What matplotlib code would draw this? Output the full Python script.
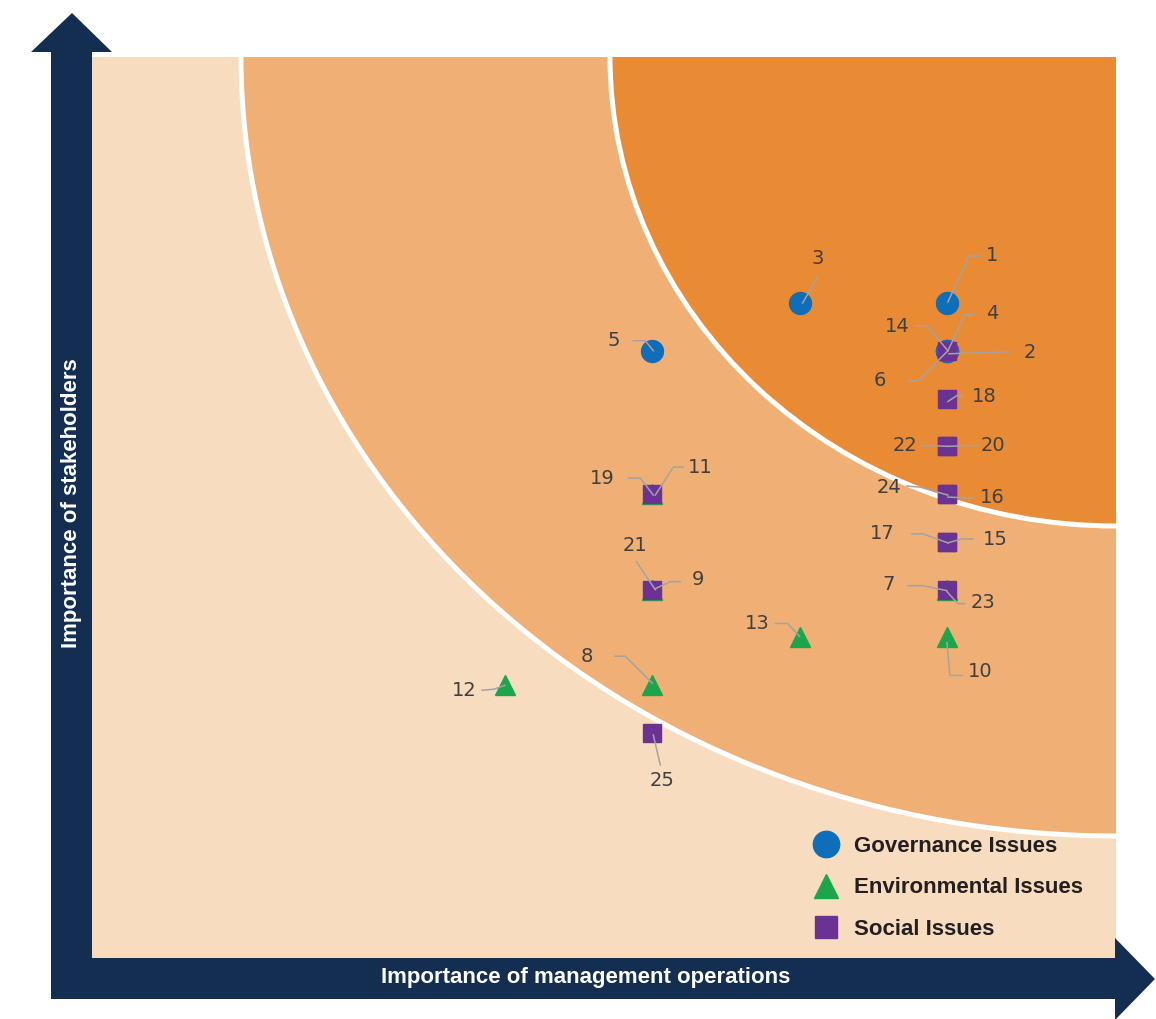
import matplotlib
matplotlib.use('Agg')
import matplotlib.pyplot as plt
from matplotlib.patches import Rectangle, Ellipse, Polygon
from matplotlib.lines import Line2D
from matplotlib.transforms import IdentityTransform

# ---------------- data ----------------
issue_ids = list(range(1, 26))
issue_category = (['Governance'] * 6 + ['Environmental'] * 7 + ['Social'] * 12)
management_importance = [6, 6, 5, 6, 4, 6,
                         6, 4, 4, 6, 4, 3, 5,
                         6, 6, 6, 6, 6, 4, 6, 4, 6, 6, 6, 4]
stakeholder_importance = [10, 9, 10, 9, 9, 9,
                          4, 2, 4, 3, 6, 2, 3,
                          9, 5, 6, 5, 8, 6, 7, 4, 7, 4, 6, 1]
legend_labels = {'Governance': 'Governance Issues',
                 'Environmental': 'Environmental Issues',
                 'Social': 'Social Issues'}
x_axis_title = 'Importance of management operations'
y_axis_title = 'Importance of stakeholders'

# ---------------- styles / layout ----------------
W, H, DPI = 1156, 1019, 100
NAVY = '#142E52'
C_OUT, C_MID, C_IN = '#F8DCBF', '#F0B075', '#E98A35'
styles = {'Governance': dict(marker='o', color='#0E6EB9', ms=15.8, z=3),
          'Environmental': dict(marker='^', color='#1BA64B', ms=14.0, z=4),
          'Social': dict(marker='s', color='#6A3393', ms=13.6, z=5)}

# label placement: (label dx, dy) and leader vertices, pixel offsets (y downward)
label_layout = {
    1: ((45, -47), [(32, -47), (22, -47), (1, -1)]),
    2: ((83, 2), [(63, 1), (2, 3)]),
    3: ((18, -44), [(18, -26), (3, 0)]),
    4: ((45, -37), [(26, -36), (18, -36), (1, 0)]),
    5: ((-39, -10), [(-19, -10), (-7, -10), (1, 0)]),
    6: ((-67, 30), [(-38, 30), (-29, 30), (1, 0)]),
    7: ((-58, -5), [(-39, -4), (-24, -4), (0, 1)]),
    8: ((-65, -29), [(-37, -29), (-27, -29), (0, -2)]),
    9: ((46, -10), [(28, -8), (18, -8), (3, -1)]),
    10: ((33, 34), [(15, 38), (3, 38), (0, 5)]),
    11: ((48, -27), [(31, -27), (21, -27), (3, 1)]),
    12: ((-41, 5), [(-23, 5), (-11, 4), (0, 0)]),
    13: ((-42, -14), [(-24, -14), (-12, -14), (0, -1)]),
    14: ((-50, -24), [(-32, -25), (-20, -25), (1, 0)]),
    15: ((48, -2), [(26, -3), (15, -3), (1, 1)]),
    16: ((45, 3), [(26, 4), (1, 3)]),
    17: ((-65, -8), [(-35, -8), (-24, -8), (1, 1)]),
    18: ((37, -2), [(16, -3), (10, -3), (1, 3)]),
    19: ((-50, -16), [(-24, -16), (-12, -16), (1, 1)]),
    20: ((46, -1), [(31, -1), (1, 0)]),
    21: ((-17, -44), [(-16, -28), (3, 0)]),
    22: ((-42, -1), [(-25, -1), (1, 0)]),
    23: ((36, 13), [(18, 14), (11, 14), (0, 2)]),
    24: ((-58, -7), [(-40, -8), (-27, -7), (1, 1)]),
    25: ((10, 47), [(8, 32), (1, 2)]),
}

fig = plt.figure(figsize=(W / DPI, H / DPI), dpi=DPI)
fig.patch.set_facecolor('white')

# background (pixel coordinates, y down)
bg = fig.add_axes([0, 0, 1, 1])
bg.set_xlim(0, W)
bg.set_ylim(H, 0)
bg.axis('off')

PL, PR, PT, PB = 92, 1116, 57, 958
panel = Rectangle((PL, PT), PR - PL, PB - PT, facecolor=C_OUT, edgecolor='none', zorder=1)
bg.add_patch(panel)
mid = Ellipse((PR, PT), 2 * 875, 2 * 779, facecolor=C_MID, edgecolor='white', lw=3.6, zorder=2)
bg.add_patch(mid)
mid.set_clip_path(panel)
inner = Ellipse((PR, PT), 2 * 506, 2 * 469, facecolor=C_IN, edgecolor='white', lw=3.6, zorder=3)
bg.add_patch(inner)
inner.set_clip_path(panel)

# arrows
bg.add_patch(Polygon([(51, 999), (51, 52), (31, 52), (72, 13), (112, 52), (92, 52), (92, 999)],
                     closed=True, facecolor=NAVY, edgecolor='none', zorder=4))
bg.add_patch(Polygon([(51, 958), (1115, 958), (1115, 938), (1155, 979), (1115, 1020), (1115, 999), (51, 999)],
                     closed=True, facecolor=NAVY, edgecolor='none', zorder=4))
bg.text(586, 978, x_axis_title, color='white', fontsize=16, fontweight='bold',
        family='Liberation Sans', ha='center', va='center', zorder=5)
bg.text(72, 503, y_axis_title, color='white', fontsize=16, fontweight='bold',
        family='Liberation Sans', ha='center', va='center', rotation=90, zorder=5)

# data axes over the panel
ax = fig.add_axes([PL / W, (H - PB) / H, (PR - PL) / W, (PB - PT) / H])
ax.patch.set_alpha(0)
ax.axis('off')
XSTEP, YSTEP = 147.3, 47.78
x0v, x0p = 3, 505
y0v, y0p = 1, 733
ax.set_xlim(x0v - (x0p - PL) / XSTEP, x0v + (PR - x0p) / XSTEP)
ax.set_ylim(y0v - (PB - y0p) / YSTEP, y0v + (y0p - PT) / YSTEP)

handles = []
for cat in ['Governance', 'Environmental', 'Social']:
    st = styles[cat]
    xs = [management_importance[i] for i in range(len(issue_ids)) if issue_category[i] == cat]
    ys = [stakeholder_importance[i] for i in range(len(issue_ids)) if issue_category[i] == cat]
    ax.plot(xs, ys, ls='none', marker=st['marker'], color=st['color'], ms=st['ms'],
            mec=st['color'], zorder=st['z'])
    handles.append(Line2D([], [], ls='none', marker=st['marker'], color=st['color'],
                          ms=st['ms'] * 1.2, label=legend_labels[cat]))

# leader lines + labels
for i, n in enumerate(issue_ids):
    (ldx, ldy), verts = label_layout[n]
    px, py = ax.transData.transform((management_importance[i], stakeholder_importance[i]))
    lx = [px + dx for dx, dy in verts]
    ly = [py - dy for dx, dy in verts]
    fig.add_artist(Line2D(lx, ly, transform=IdentityTransform(), color='#A3A3A3',
                          lw=1.1, zorder=5))
    ax.annotate(str(n), xy=(management_importance[i], stakeholder_importance[i]),
                xytext=(ldx, -ldy), textcoords='offset pixels', ha='center', va='center',
                fontsize=14, color='#404040', family=['Liberation Sans Narrow', 'DejaVu Sans'],
                zorder=6)

leg = ax.legend(handles=handles, loc='upper left',
                bbox_to_anchor=(810 / W, 1 - 836 / H), bbox_transform=fig.transFigure,
                frameon=False, borderpad=0, borderaxespad=0, handlelength=1.4,
                handletextpad=0.57, labelspacing=0.92,
                prop=dict(family='Liberation Sans', weight='bold', size=16))
for t in leg.get_texts():
    t.set_color('#231F20')

fig.savefig('out.png', dpi=DPI)
